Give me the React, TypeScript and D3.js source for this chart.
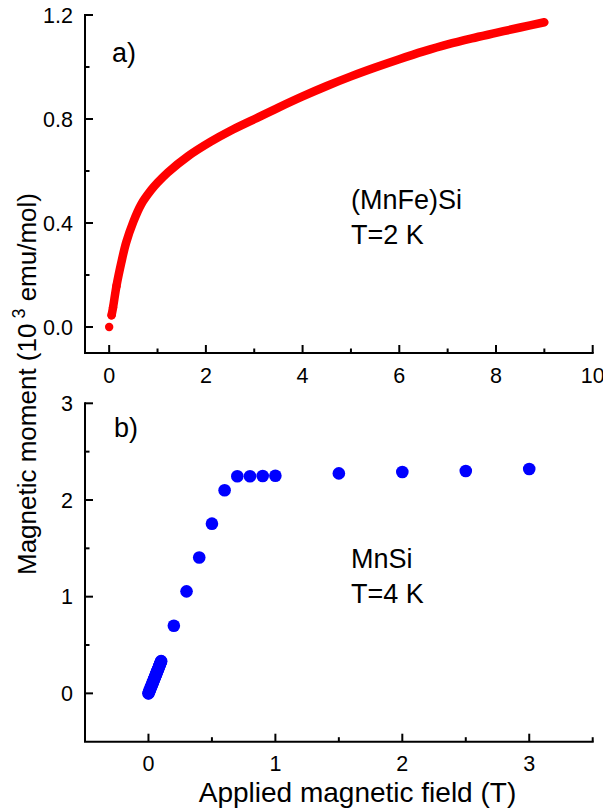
import React from "react";
import * as d3 from "d3";

// Panel a) (MnFe)Si, T = 2 K : field (T) vs moment (10^3 emu/mol)
const fieldA = [0, 0.05, 0.08, 0.15, 0.25, 0.35, 0.5, 0.66, 0.87, 1.0, 1.21, 1.63, 2.1, 2.5, 3.0, 3.5, 4.0, 4.5, 5.0, 5.5, 6.0, 6.5, 7.0, 7.5, 8.0, 8.5, 9.0];
const momentA = [0, 0.045, 0.075, 0.157, 0.247, 0.324, 0.405, 0.471, 0.527, 0.555, 0.594, 0.657, 0.713, 0.754, 0.799, 0.844, 0.887, 0.927, 0.964, 0.998, 1.03, 1.06, 1.087, 1.11, 1.131, 1.152, 1.172];

// Panel b) MnSi, T = 4 K
const fieldB = [0, 0.005, 0.01, 0.015, 0.02, 0.025, 0.03, 0.035, 0.04, 0.045, 0.05, 0.055, 0.06, 0.065, 0.07, 0.075, 0.08, 0.085, 0.09, 0.095, 0.1, 0.2, 0.3, 0.4, 0.5, 0.6, 0.7, 0.8, 0.9, 1.0, 1.5, 2.0, 2.5, 3.0];
const momentB = [0, 0.016, 0.032, 0.049, 0.066, 0.082, 0.099, 0.115, 0.132, 0.148, 0.165, 0.182, 0.198, 0.215, 0.232, 0.248, 0.265, 0.282, 0.298, 0.315, 0.333, 0.7, 1.055, 1.405, 1.755, 2.1, 2.245, 2.245, 2.248, 2.25, 2.275, 2.29, 2.3, 2.32];

const xTicksAMajor = [0, 2, 4, 6, 8, 10];
const xTicksAMinor = [1, 3, 5, 7, 9];
const yTicksAMajor = [0.0, 0.4, 0.8, 1.2];
const yTicksAMinor = [0.2, 0.6, 1.0];
const xTicksBMajor = [0, 1, 2, 3];
const xTicksBMinor = [0.5, 1.5, 2.5, 3.5];
const yTicksBMajor = [0, 1, 2, 3];
const yTicksBMinor = [0.5, 1.5, 2.5];

const FONT = "'Liberation Sans', Arial, Helvetica, sans-serif";

function Axes({ x, y, xMaj, xMin, yMaj, yMin, xFmt, yFmt }: any) {
  const [x0, x1] = x.range();
  const [y0, y1] = y.range();
  const axisY = y0;
  const axisX = x0;
  return (
    <g stroke="#000" strokeWidth={2} fill="none">
      <line x1={axisX} x2={axisX} y1={y1 - 1} y2={axisY} />
      <line x1={axisX - 1} x2={x1 + 1} y1={axisY} y2={axisY} />
      {xMaj.map((t: number) => (
        <line key={"xM" + t} x1={x(t)} x2={x(t)} y1={axisY} y2={axisY - 8} />
      ))}
      {xMin.map((t: number) => (
        <line key={"xm" + t} x1={x(t)} x2={x(t)} y1={axisY} y2={axisY - 4.5} />
      ))}
      {yMaj.map((t: number) => (
        <line key={"yM" + t} x1={axisX} x2={axisX + 8} y1={y(t)} y2={y(t)} />
      ))}
      {yMin.map((t: number) => (
        <line key={"ym" + t} x1={axisX} x2={axisX + 4.5} y1={y(t)} y2={y(t)} />
      ))}
      <g stroke="none" fill="#000" fontFamily={FONT} fontSize={21.5}>
        {xMaj.map((t: number) => (
          <text key={"xl" + t} x={x(t)} y={axisY + 29.5} textAnchor="middle">
            {xFmt(t)}
          </text>
        ))}
        {yMaj.map((t: number) => (
          <text key={"yl" + t} x={axisX - 12} y={y(t)} dy="0.36em" textAnchor="end">
            {yFmt(t)}
          </text>
        ))}
      </g>
    </g>
  );
}

export default function App() {
  const xA = d3.scaleLinear().domain([-0.5, 10]).range([85, 592.7]);
  const yA = d3.scaleLinear().domain([-0.1, 1.2]).range([353, 15]);
  const xB = d3.scaleLinear().domain([-0.5, 3.5]).range([85, 592.7]);
  const yB = d3.scaleLinear().domain([-0.5, 3]).range([741.7, 403.3]);

  const ptsA = fieldA.map((f, i) => [f, momentA[i]] as [number, number]);
  const ptsB = fieldB.map((f, i) => [f, momentB[i]] as [number, number]);

  const lineA = d3
    .line<[number, number]>()
    .x((d) => xA(d[0]))
    .y((d) => yA(d[1]))
    .curve(d3.curveCatmullRom.alpha(0.5));

  const denseB = ptsB.filter((d) => d[0] <= 0.1);
  const lineB = d3
    .line<[number, number]>()
    .x((d) => xB(d[0]))
    .y((d) => yB(d[1]));

  return (
    <svg
      width={603}
      height={811}
      style={{ position: "absolute", left: 0, top: 0, background: "#fff" }}
    >
      <rect width={603} height={811} fill="#fff" />
      <Axes
        x={xA}
        y={yA}
        xMaj={xTicksAMajor}
        xMin={xTicksAMinor}
        yMaj={yTicksAMajor}
        yMin={yTicksAMinor}
        xFmt={(t: number) => String(t)}
        yFmt={(t: number) => t.toFixed(1)}
      />
      <Axes
        x={xB}
        y={yB}
        xMaj={xTicksBMajor}
        xMin={xTicksBMinor}
        yMaj={yTicksBMajor}
        yMin={yTicksBMinor}
        xFmt={(t: number) => String(t)}
        yFmt={(t: number) => String(t)}
      />

      {/* panel a data */}
      <path
        d={lineA(ptsA.slice(1)) || ""}
        fill="none"
        stroke="#ff0000"
        strokeWidth={8.5}
        strokeLinecap="round"
        strokeLinejoin="round"
      />
      {ptsA.slice(0, 4).map((d, i) => (
        <circle key={"a" + i} cx={xA(d[0])} cy={yA(d[1])} r={4.2} fill="#ff0000" />
      ))}

      {/* panel b data */}
      <path
        d={lineB(denseB) || ""}
        fill="none"
        stroke="#0000ff"
        strokeWidth={12}
        strokeLinecap="round"
      />
      {ptsB.map((d, i) => (
        <circle key={"b" + i} cx={xB(d[0])} cy={yB(d[1])} r={6.3} fill="#0000ff" />
      ))}

      <g fontFamily={FONT} fill="#000" fontSize={27}>
        <text x={112} y={62}>a)</text>
        <text x={114} y={437}>b)</text>
        <text x={351} y={208.5}>(MnFe)Si</text>
        <text x={351} y={243.5}>T=2 K</text>
        <text x={351} y={568}>MnSi</text>
        <text x={351} y={603}>T=4 K</text>
      </g>

      <text
        x={357.5}
        y={801.5}
        textAnchor="middle"
        fontFamily={FONT}
        fontSize={28}
        fill="#000"
      >
        Applied magnetic field (T)
      </text>
      <text
        transform="translate(36,384) rotate(-90)"
        textAnchor="middle"
        fontFamily={FONT}
        fontSize={26}
        fill="#000"
      >
        Magnetic moment (10
        <tspan fontSize={18} dy={-11}> 3</tspan>
        <tspan dy={11}> emu/mol)</tspan>
      </text>
    </svg>
  );
}
